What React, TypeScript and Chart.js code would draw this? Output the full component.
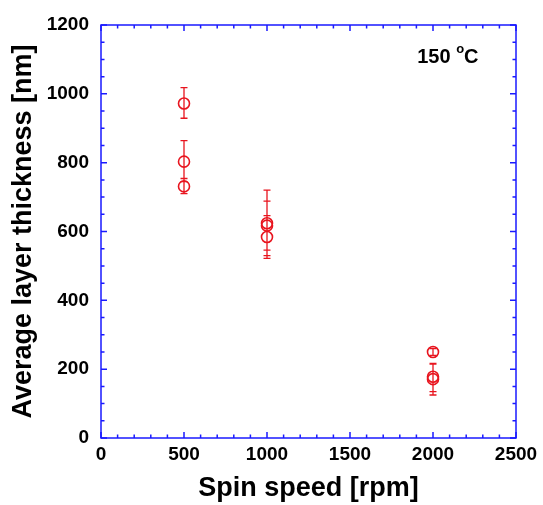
import React, { useEffect, useRef } from "react";
import { Chart, registerables } from "chart.js";

Chart.register(...registerables);

const spinSpeed = [500, 500, 500, 1000, 1000, 1000, 2000, 2000, 2000];
const thickness = [972, 803, 731, 624, 617, 584, 250, 178, 171];
const errUpper = [1018, 864, 754, 720, 688, 646, 260, 217, 215];
const errLower = [929, 745, 710, 530, 546, 522, 240, 135, 125];

const xTicks = [0, 500, 1000, 1500, 2000, 2500];
const yTicks = [0, 200, 400, 600, 800, 1000, 1200];
const annotation = { x: 1905, y: 1107, main: "150 ", sup: "o", unit: "C" };

const AXIS_COLOR = "#1a1aff";
const RED = "#e8141e";
const FONT = "Arial, 'Liberation Sans', sans-serif";

const framePlugin = {
  id: "frame",
  afterDraw(chart: any) {
    const { ctx, chartArea: a, scales } = chart;
    const xs = scales.x, ys = scales.y;
    ctx.save();
    ctx.strokeStyle = AXIS_COLOR;
    ctx.lineWidth = 1.5;
    ctx.strokeRect(a.left, a.top, a.right - a.left, a.bottom - a.top);
    ctx.beginPath();
    for (let v = 0; v <= 2500; v += 100) {
      const px = xs.getPixelForValue(v);
      const len = v % 500 === 0 ? 6 : 3.5;
      ctx.moveTo(px, a.bottom); ctx.lineTo(px, a.bottom - len);
      ctx.moveTo(px, a.top); ctx.lineTo(px, a.top + len);
    }
    for (let v = 0; v <= 1200; v += 50) {
      const py = ys.getPixelForValue(v);
      const len = v % 200 === 0 ? 6 : 3.5;
      ctx.moveTo(a.left, py); ctx.lineTo(a.left + len, py);
      ctx.moveTo(a.right, py); ctx.lineTo(a.right - len, py);
    }
    ctx.stroke();

    // annotation
    ctx.fillStyle = "#000";
    ctx.textBaseline = "middle";
    ctx.textAlign = "left";
    let x0 = xs.getPixelForValue(annotation.x);
    const y0 = ys.getPixelForValue(annotation.y);
    ctx.font = `bold 20px ${FONT}`;
    ctx.fillText(annotation.main, x0, y0);
    x0 += ctx.measureText(annotation.main).width;
    ctx.font = `bold 13px ${FONT}`;
    ctx.fillText(annotation.sup, x0, y0 - 8);
    x0 += ctx.measureText(annotation.sup).width;
    ctx.font = `bold 20px ${FONT}`;
    ctx.fillText(annotation.unit, x0, y0);
    ctx.restore();
  },
};

const errorBarPlugin = {
  id: "errorBars",
  beforeDatasetsDraw(chart: any) {
    const { ctx, scales } = chart;
    ctx.save();
    ctx.strokeStyle = RED;
    ctx.lineWidth = 1.3;
    ctx.beginPath();
    for (let i = 0; i < spinSpeed.length; i++) {
      const px = scales.x.getPixelForValue(spinSpeed[i]);
      const top = scales.y.getPixelForValue(errUpper[i]);
      const bot = scales.y.getPixelForValue(errLower[i]);
      ctx.moveTo(px, top); ctx.lineTo(px, bot);
      ctx.moveTo(px - 3.5, top); ctx.lineTo(px + 3.5, top);
      ctx.moveTo(px - 3.5, bot); ctx.lineTo(px + 3.5, bot);
    }
    ctx.stroke();
    ctx.restore();
  },
};

export default function App() {
  const ref = useRef<HTMLCanvasElement | null>(null);
  useEffect(() => {
    if (!ref.current) return;
    const chart = new Chart(ref.current, {
      type: "scatter",
      data: {
        datasets: [
          {
            data: spinSpeed.map((x, i) => ({ x, y: thickness[i] })),
            pointStyle: "circle",
            pointRadius: 5.5,
            pointBorderWidth: 1.6,
            borderColor: RED,
            backgroundColor: "rgba(0,0,0,0)",
            pointBackgroundColor: "rgba(0,0,0,0)",
          },
        ],
      },
      options: {
        animation: false,
        responsive: false,
        layout: { padding: { top: 25, right: 27, left: 0, bottom: 0 } },
        plugins: { legend: { display: false }, tooltip: { enabled: false } },
        scales: {
          x: {
            type: "linear",
            min: 0,
            max: 2500,
            afterBuildTicks: (s: any) => { s.ticks = xTicks.map((v) => ({ value: v })); },
            afterFit: (s: any) => { s.height = 67; },
            grid: { display: false, drawTicks: false },
            border: { display: false },
            ticks: {
              color: "#000",
              font: { family: FONT, size: 19, weight: "bold" },
              padding: 5,
              maxRotation: 0,
              callback: (v: any) => String(v),
            },
            title: {
              display: true,
              text: "Spin speed [rpm]",
              color: "#000",
              font: { family: FONT, size: 27, weight: "bold" },
              padding: { top: 0, bottom: 0 },
            },
          },
          y: {
            type: "linear",
            min: 0,
            max: 1200,
            afterBuildTicks: (s: any) => { s.ticks = yTicks.map((v) => ({ value: v })); },
            afterFit: (s: any) => { s.width = 101; },
            grid: { display: false, drawTicks: false },
            border: { display: false },
            ticks: {
              color: "#000",
              font: { family: FONT, size: 19, weight: "bold" },
              padding: 12,
              callback: (v: any) => String(v),
            },
            title: {
              display: true,
              text: "Average layer thickness [nm]",
              color: "#000",
              font: { family: FONT, size: 27, weight: "bold" },
              padding: { top: 7, bottom: 0 },
            },
          },
        },
      },
      plugins: [errorBarPlugin, framePlugin],
    } as any);
    return () => chart.destroy();
  }, []);
  return (
    <div style={{ position: "absolute", left: 0, top: 0, width: 543, height: 505, background: "#fff" }}>
      <canvas ref={ref} width={543} height={505} style={{ width: 543, height: 505 }} />
    </div>
  );
}
